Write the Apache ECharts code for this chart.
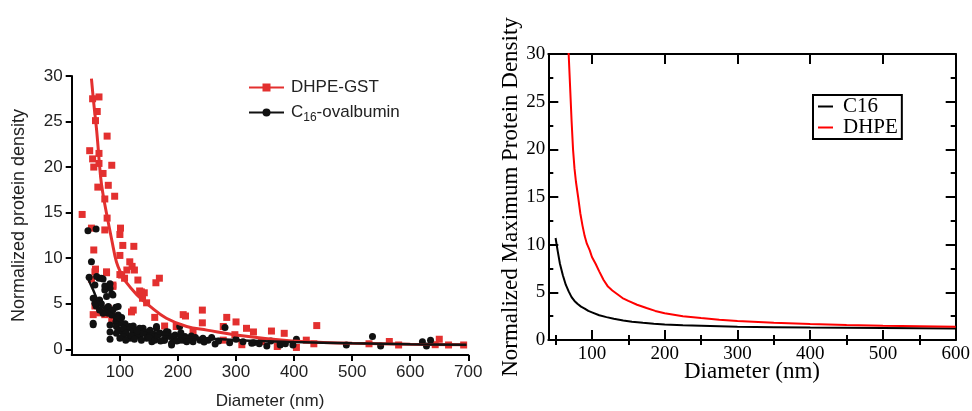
<!DOCTYPE html>
<html>
<head>
<meta charset="utf-8">
<script src="https://cdn.jsdelivr.net/npm/echarts@6/dist/echarts.min.js"></script>
<style>html,body{margin:0;padding:0;background:#fff;}#c{width:972px;height:411px;}</style>
</head>
<body>
<div id="c"></div>
<script>
// ---- Left panel: measured protein density (scatter) ----
const dhpeGstPoints = [[53,27.5],[64,27.7],[61,26.1],[58,25.1],[78,23.4],[48,21.8],[64,21.5],[53,20.9],[55,20.0],[64,20.4],[86,20.2],[71,19.3],[62,17.8],[80,18.0],[91,16.8],[74,16.5],[35,14.8],[78,14.4],[101,13.3],[51,13.3],[74,13.1],[100,12.6],[124,11.3],[55,10.9],[105,11.4],[100,10.3],[58,8.8],[77,8.4],[117,9.6],[121,9.1],[125,8.7],[100,8.2],[112,8.7],[108,7.8],[51,7.7],[88,6.9],[131,7.6],[168,7.8],[162,7.3],[134,6.4],[142,6.2],[139,5.6],[146,5.1],[123,4.3],[65,4.0],[71,4.1],[74,3.8],[80,4.5],[86,4.0],[57,4.75],[54,3.8],[160,3.5],[209,3.8],[213,3.65],[242,4.3],[242,2.9],[284,3.5],[278,2.5],[300,3.0],[318,2.3],[330,1.9],[361,2.0],[383,1.75],[310,0.5],[371,0.3],[404,0.2],[421,1.0],[434,0.6],[344,0.85],[278,1.0],[298,1.6],[439,2.6],[529,0.6],[564,0.85],[580,0.47],[650,1.1],[643,0.5],[666,0.47],[692,0.47],[197,2.5],[226,1.9],[177,2.55],[57,8.5],[77,8.5],[103,8.15],[88,7.05],[137,6.3],[120,4.1],[86,3.2]];
const c16OvalbuminPoints = [[45,13.0],[59,13.2],[51,9.6],[64,7.8],[71,7.7],[80,6.9],[83,6.7],[86,6.1],[74,6.5],[54,5.6],[65,5.4],[59,4.75],[68,5.0],[77,4.5],[93,4.6],[80,3.95],[86,3.75],[54,2.7],[83,1.9],[97,3.75],[103,3.5],[93,3.0],[94,2.5],[100,2.1],[109,2.8],[114,2.3],[106,1.75],[123,2.55],[129,1.9],[134,1.45],[140,2.3],[146,1.75],[155,1.4],[163,2.3],[169,1.75],[177,1.0],[189,0.65],[192,1.3],[183,1.9],[203,2.5],[209,1.0],[223,1.45],[238,1.0],[264,0.58],[281,2.4],[289,0.72],[312,0.83],[330,0.72],[353,0.36],[376,0.47],[215,0.83],[226,0.83],[243,1.2],[252,1.0],[327,0.65],[376,0.72],[398,0.47],[404,1.1],[490,0.47],[535,1.4],[549,0.36],[621,0.83],[628,0.36],[635,1.0],[47,7.9],[60,8.0],[68,7.8],[57,7.05],[74,6.95],[83,7.2],[88,5.96],[77,5.8],[63,5.2],[57,5.05],[80,4.7],[88,4.3],[97,4.7],[54,2.85],[83,2.67],[83,1.1],[94,3.4],[103,2.85],[97,2.1],[106,2.3],[111,1.75],[117,2.5],[123,1.93],[129,1.57],[134,2.3],[140,1.75],[146,1.2],[152,2.1],[157,1.57],[163,2.5],[169,1.75],[175,1.0],[180,1.93],[186,1.4],[189,0.47],[195,1.57],[203,1.0],[212,1.4],[117,1.2],[137,1.0],[155,0.83],[106,1.4],[94,1.75],[71,3.95],[65,4.3],[100,1.2],[110,1.0],[120,1.5],[125,1.1],[130,2.0],[150,1.3],[160,1.0],[165,1.5],[170,0.9],[178,1.6],[198,0.9],[205,1.8],[218,1.1],[230,1.3],[245,0.8],[258,1.3],[270,0.9],[300,1.1],[340,0.6],[360,0.9],[385,0.6]];
// fitted curves (left)
const dhpeGstFit = [[51,29.7],[55,27.0],[60,24.0],[67,18.8],[71,17.0],[77,14.9],[86,12.0],[94,9.6],[103,8.2],[109,7.5],[129,6.0],[152,4.7],[180,3.4],[215,2.5],[250,2.1],[307,1.5],[387,0.95],[450,0.75],[500,0.65],[600,0.55],[697,0.5]];
const c16OvalbuminFit = [[45,7.8],[54,6.5],[65,5.0],[83,3.95],[111,2.7],[134,2.25],[157,1.9],[192,1.55],[215,1.35],[307,1.0],[400,0.8],[500,0.65],[600,0.55],[697,0.5]];
const leftXTicks = [100,200,300,400,500,600,700];
const leftYTicks = [0,5,10,15,20,25,30];

// ---- Right panel: model curves ----
const c16Curve = [[50,10.7],[53,9.3],[56,8.0],[60,6.8],[64,5.8],[68,5.1],[72,4.5],[76,4.1],[80,3.8],[85,3.5],[90,3.3],[95,3.05],[100,2.9],[110,2.6],[120,2.4],[130,2.22],[143,2.05],[155,1.92],[170,1.8],[185,1.7],[200,1.62],[225,1.55],[250,1.5],[300,1.4],[350,1.35],[400,1.3],[500,1.25],[600,1.2]];
const dhpeCurve = [[64,36],[68,30],[70,26.5],[72,23],[74,20],[76,18],[78,16.6],[81,15],[84,13.3],[87,12],[90,10.9],[93,10.1],[97,9.4],[100,8.7],[105,8.0],[110,7.2],[116,6.3],[122,5.6],[128,5.2],[135,4.8],[142,4.4],[150,4.1],[162,3.7],[175,3.35],[187,3.05],[200,2.8],[225,2.5],[250,2.3],[275,2.12],[300,2.0],[350,1.8],[400,1.68],[450,1.58],[500,1.5],[550,1.45],[600,1.4]];
const rightXMajor = [100,200,300,400,500,600];
const rightXMinor = [50,150,250,350,450,550];

const SANS = 'Liberation Sans, Arial, Helvetica, sans-serif';
const SERIF = 'Liberation Serif, Times New Roman, serif';
const RED_L = '#e3302f', BLK_L = '#111111';
const axL = {color:'#000', width:2};
const axR = {color:'#000', width:2};

const chart = echarts.init(document.getElementById('c'), null, {renderer:'canvas'});
chart.setOption({
  animation:false,
  backgroundColor:'#fff',
  grid:[
    {left:71.7, top:76, width:396.6, height:279, outerBoundsMode:'none', containLabel:false},
    {left:548.3, top:54, width:407.4, height:286, outerBoundsMode:'none', containLabel:false}
  ],
  xAxis:[
    {gridIndex:0, type:'value', min:17, max:700,
     axisLine:{onZero:false, lineStyle:axL},
     axisTick:{customValues:leftXTicks, length:6, lineStyle:axL},
     axisLabel:{customValues:leftXTicks, fontFamily:SANS, fontSize:17, color:'#222', margin:9},
     splitLine:{show:false},
     name:'Diameter (nm)', nameLocation:'middle', nameGap:38,
     nameTextStyle:{fontFamily:SANS, fontSize:17, color:'#222'}},
    {gridIndex:1, type:'value', min:40, max:600, position:'bottom',
     axisLine:{onZero:false, lineStyle:axR},
     axisTick:{customValues:rightXMajor, inside:true, length:10, lineStyle:axR},
     axisLabel:{customValues:rightXMajor, fontFamily:SERIF, fontSize:19, color:'#000', margin:5},
     splitLine:{show:false},
     name:'Diameter (nm)', nameLocation:'middle', nameGap:20, nameMoveOverlap:false,
     nameTextStyle:{fontFamily:SERIF, fontSize:23, color:'#000'}},
    {gridIndex:1, type:'value', min:40, max:600, position:'bottom',
     axisLine:{show:false},
     axisTick:{customValues:rightXMinor, inside:true, length:5, lineStyle:axR},
     axisLabel:{show:false}, splitLine:{show:false}},
    {gridIndex:1, type:'value', min:40, max:600, position:'top',
     axisLine:{onZero:false, lineStyle:axR},
     axisTick:{customValues:rightXMajor, inside:true, length:10, lineStyle:axR},
     axisLabel:{show:false}, splitLine:{show:false}},
    {gridIndex:1, type:'value', min:40, max:600, position:'top',
     axisLine:{show:false},
     axisTick:{customValues:rightXMinor, inside:true, length:5, lineStyle:axR},
     axisLabel:{show:false}, splitLine:{show:false}}
  ],
  yAxis:[
    {gridIndex:0, type:'value', min:-0.63, max:30,
     axisLine:{onZero:false, lineStyle:axL},
     axisTick:{customValues:leftYTicks, length:6, lineStyle:axL},
     axisLabel:{customValues:leftYTicks, fontFamily:SANS, fontSize:17, color:'#222', margin:9},
     splitLine:{show:false},
     name:'Normalized protein density', nameLocation:'middle', nameGap:44, nameRotate:90,
     nameTextStyle:{fontFamily:SANS, fontSize:18, color:'#222'}},
    {gridIndex:1, type:'value', min:0, max:30, interval:5, position:'left',
     axisLine:{onZero:false, lineStyle:axR},
     axisTick:{inside:true, length:10, lineStyle:axR},
     minorTick:{show:true, splitNumber:2, length:5, lineStyle:axR},
     axisLabel:{fontFamily:SERIF, fontSize:19, color:'#000', margin:3},
     splitLine:{show:false}, minorSplitLine:{show:false},
     name:'Normalized Maximum Protein Density', nameLocation:'middle', nameGap:26, nameRotate:90,
     nameTextStyle:{fontFamily:SERIF, fontSize:23, color:'#000'}},
    {gridIndex:1, type:'value', min:0, max:30, interval:5, position:'right',
     axisLine:{onZero:false, lineStyle:axR},
     axisTick:{inside:true, length:10, lineStyle:axR},
     minorTick:{show:true, splitNumber:2, length:5, lineStyle:axR},
     axisLabel:{show:false}, splitLine:{show:false}}
  ],
  legend:[
    {orient:'vertical', left:248, top:79, itemWidth:35, itemHeight:10, itemGap:8, padding:0,
     data:['DHPE-GST','C16-ovalbumin'],
     formatter: function(n){ return n==='C16-ovalbumin' ? '{t|C}{s|16}{t|-ovalbumin}' : '{t|'+n+'}'; },
     textStyle:{fontFamily:SANS, fontSize:17, color:'#222', padding:[0,0,0,2],
       rich:{t:{fontFamily:SANS, fontSize:17, color:'#222', lineHeight:22},
             s:{fontFamily:SANS, fontSize:12, color:'#222', lineHeight:12, verticalAlign:'bottom'}}}},
    {orient:'vertical', left:813, top:95, itemWidth:15, itemHeight:2, itemGap:0,
     padding:[1,4,1,5], borderColor:'#000', borderWidth:2, backgroundColor:'#fff',
     data:[{name:'C16', icon:'rect'},{name:'DHPE', icon:'rect'}],
     textStyle:{fontFamily:SERIF, fontSize:21, color:'#000', lineHeight:20, padding:[0,0,0,5]}}
  ],
  series:[
    {name:'DHPE-GST data', type:'scatter', xAxisIndex:0, yAxisIndex:0, symbol:'rect', symbolSize:7,
     itemStyle:{color:RED_L, opacity:1}, data:dhpeGstPoints, z:2},
    {name:'C16-ovalbumin data', type:'scatter', xAxisIndex:0, yAxisIndex:0, symbol:'circle', symbolSize:7,
     itemStyle:{color:BLK_L, opacity:1}, data:c16OvalbuminPoints, z:3},
    {name:'DHPE-GST', type:'line', xAxisIndex:0, yAxisIndex:0, symbol:'rect', showSymbol:false, smooth:0.4,
     lineStyle:{color:RED_L, width:3}, itemStyle:{color:RED_L}, data:dhpeGstFit, z:4},
    {name:'C16-ovalbumin', type:'line', xAxisIndex:0, yAxisIndex:0, symbol:'circle', showSymbol:false, smooth:0.4,
     lineStyle:{color:BLK_L, width:2.5}, itemStyle:{color:BLK_L}, data:c16OvalbuminFit, z:5},
    {name:'C16', type:'line', xAxisIndex:1, yAxisIndex:1, symbol:'none', smooth:false,
     lineStyle:{color:'#000', width:2}, itemStyle:{color:'#000'}, data:c16Curve},
    {name:'DHPE', type:'line', xAxisIndex:1, yAxisIndex:1, symbol:'none', smooth:false,
     lineStyle:{color:'#ff0000', width:2}, itemStyle:{color:'#ff0000'}, data:dhpeCurve}
  ]
});
</script>
</body>
</html>
